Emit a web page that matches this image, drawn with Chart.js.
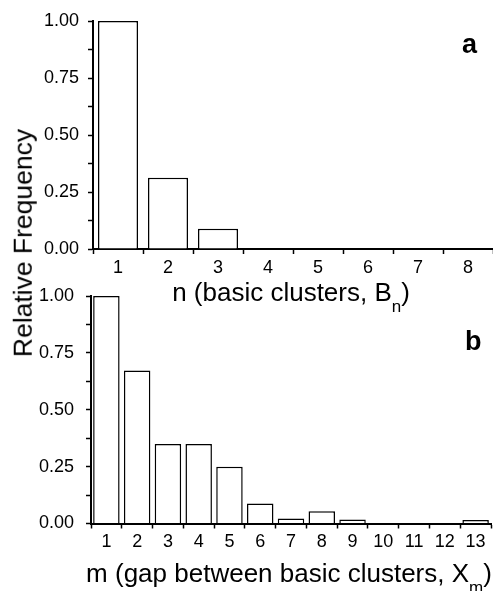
<!DOCTYPE html>
<html>
<head>
<meta charset="utf-8">
<script src="https://cdn.jsdelivr.net/npm/chart.js@4.4.1/dist/chart.umd.min.js"></script>
<style>
  html, body { margin: 0; padding: 0; background: #fff; }
  #wrap { position: relative; width: 493px; height: 591px; overflow: hidden; }
  canvas { position: absolute; left: 0; }
  #chartA { top: 0; }
  #chartB { top: 270px; }
  #ylabel {
    position: absolute; left: 23px; top: 243px;
    font: 26.5px 'Liberation Sans', Arial, sans-serif;
    line-height: 1; white-space: nowrap; color: #000;
    transform: translate(-50%, -50%) rotate(-90deg);
  }
</style>
</head>
<body>
<div id="wrap">
  <canvas id="chartA" width="493" height="320"></canvas>
  <canvas id="chartB" width="493" height="321"></canvas>
  <div id="ylabel">Relative Frequency</div>
</div>
<script>
const FONT = "'Liberation Sans', Arial, sans-serif";

// panel a: basic clusters B_n
const labelsA = ['1', '2', '3', '4', '5', '6', '7', '8'];
const valuesA = [1.0, 0.313, 0.089, 0, 0.003, 0.003, 0.003, 0.002];

// panel b: gap between basic clusters X_m
const labelsB = ['1', '2', '3', '4', '5', '6', '7', '8', '9', '10', '11', '12', '13'];
const valuesB = [1.0, 0.672, 0.35, 0.35, 0.249, 0.088, 0.022, 0.054, 0.018, 0.002, 0.002, 0.002, 0.015];

// axis titles, split so the subscript can be drawn smaller
const titleA = ['n (basic clusters, B', 'n', ')'];
const titleB = ['m (gap between basic clusters, X', 'm', ')'];

// draws the x title with a subscript and the panel letter
const panelText = {
    id: 'panelText',
    afterDraw(chart, args, opts) {
        const ctx = chart.ctx;
        const xs = chart.scales.x;
        ctx.save();
        ctx.fillStyle = '#000';
        ctx.textBaseline = 'alphabetic';
        ctx.textAlign = 'left';

        ctx.font = '26px ' + FONT;
        const w1 = ctx.measureText(opts.title[0]).width;
        const w3 = ctx.measureText(opts.title[2]).width;
        ctx.font = '17px ' + FONT;
        const w2 = ctx.measureText(opts.title[1]).width;

        let left = (xs.left + xs.right) / 2 + opts.shift - (w1 + w2 + w3) / 2;
        ctx.font = '26px ' + FONT;
        ctx.fillText(opts.title[0], left, opts.titleY);
        left += w1;
        ctx.font = '17px ' + FONT;
        ctx.fillText(opts.title[1], left, opts.titleY + 11);
        left += w2;
        ctx.font = '26px ' + FONT;
        ctx.fillText(opts.title[2], left, opts.titleY);

        ctx.font = 'bold 27px ' + FONT;
        ctx.fillText(opts.letter, opts.letterX, opts.letterY);
        ctx.restore();
    }
};

function makeChart(id, labels, values, p) {
    let ctx = document.getElementById(id).getContext('2d');
    return new Chart(ctx, {
        type: 'bar',
        data: {
            labels: labels,
            datasets: [
                {
                    data: values,
                    backgroundColor: '#fff',
                    borderColor: '#000',
                    borderWidth: 1.5,
                    barPercentage: p.barPct,
                    categoryPercentage: 1
                }
            ]
        },
        options: {
            responsive: false,
            animation: false,
            devicePixelRatio: 1,
            layout: { padding: { top: p.top, left: 0, right: p.right, bottom: 0 } },
            scales: {
                x: {
                    offset: true,
                    afterFit(scale) { scale.height = p.xHeight; },
                    ticks: {
                        color: '#000',
                        font: { size: 18, family: FONT },
                        padding: 3,
                        maxRotation: 0,
                        autoSkip: false
                    },
                    grid: {
                        offset: true,
                        drawOnChartArea: false,
                        tickLength: 5,
                        tickColor: '#000',
                        tickWidth: 1.5
                    },
                    border: { color: '#000', width: 2 }
                },
                y: {
                    min: 0,
                    max: 1,
                    afterFit(scale) { scale.width = p.yWidth; },
                    ticks: {
                        stepSize: 0.125,
                        autoSkip: false,
                        color: '#000',
                        font: { size: 18, family: FONT },
                        padding: p.yPad,
                        callback: v => (Math.round(v * 1000) % 250 === 0) ? v.toFixed(2) : ''
                    },
                    grid: {
                        drawOnChartArea: false,
                        tickLength: 5,
                        tickColor: '#000',
                        tickWidth: 1.5
                    },
                    border: { color: '#000', width: 2 }
                }
            },
            plugins: {
                legend: { display: false },
                tooltip: { enabled: false },
                panelText: p.text
            }
        },
        plugins: [panelText]
    });
}

let chartA = makeChart('chartA', labelsA, valuesA, {
    top: 21, right: 0, xHeight: 71, yWidth: 93, yPad: 9, barPct: 0.8,
    text: { title: titleA, titleY: 301, shift: -2, letter: 'a', letterX: 462, letterY: 53 }
});

let chartB = makeChart('chartB', labelsB, valuesB, {
    top: 26, right: 2, xHeight: 67.5, yWidth: 91, yPad: 12, barPct: 0.86,
    text: { title: titleB, titleY: 312, shift: -2, letter: 'b', letterX: 465, letterY: 80 }
});
</script>
</body>
</html>
